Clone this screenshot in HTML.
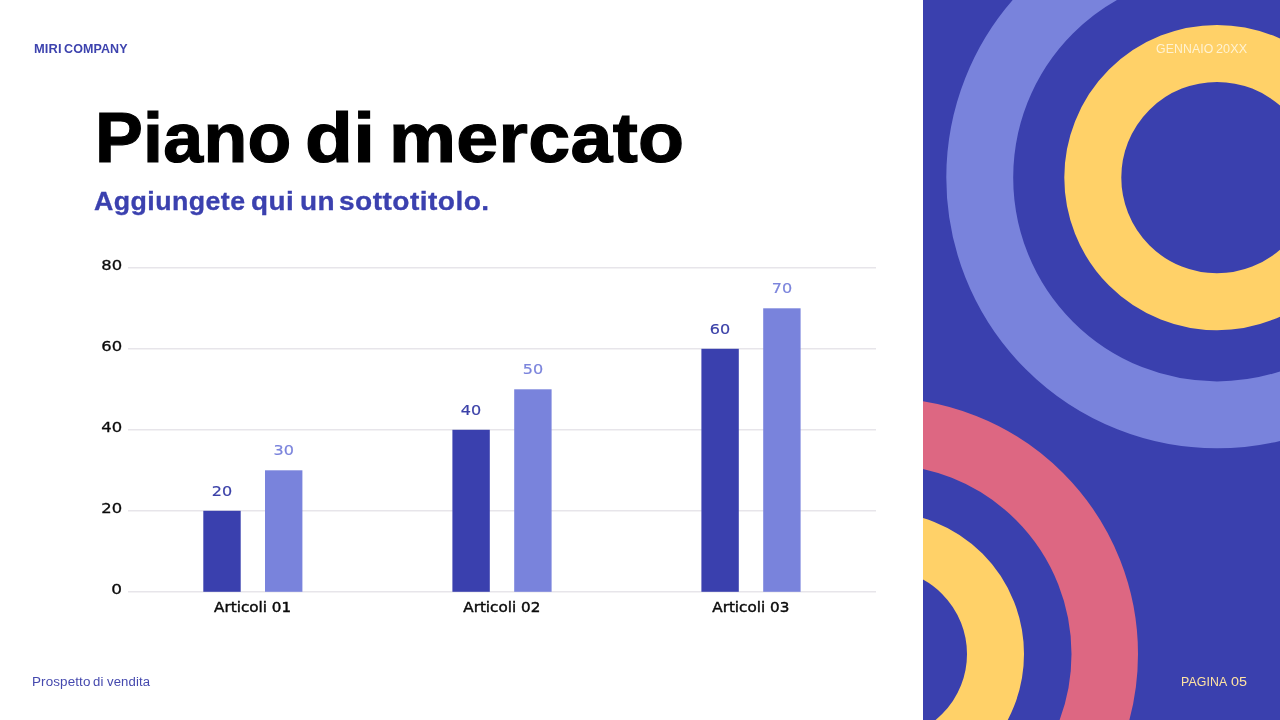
<!DOCTYPE html>
<html lang="it">
<head>
<meta charset="utf-8">
<title>Piano di mercato</title>
<style>
  html,body{margin:0;padding:0;}
  body{width:1280px;height:720px;position:relative;overflow:hidden;background:#ffffff;font-family:"Liberation Sans",sans-serif;}
  .t{position:absolute;left:0;white-space:nowrap;line-height:1;margin:0;width:1280px;}
  .t span{position:absolute;top:0;white-space:nowrap;transform-origin:0 50%;}
  #brand{top:43px;font-size:12.5px;font-weight:bold;color:#3d43ae;}
  #title{top:102px;height:71px;font-size:71px;font-weight:bold;color:#000;-webkit-text-stroke:1.2px #000;}
  #subtitle{top:189.4px;height:26px;font-size:25.5px;font-weight:bold;color:#3b41af;-webkit-text-stroke:0.3px #3b41af;}
  #footer{top:675.5px;font-size:12px;color:#4549ae;}
  #date{top:43px;font-size:12.5px;color:#fff2d2;}
  #page{top:676px;font-size:12.5px;color:#ffe3a3;}
  #t1{left:95.47px;letter-spacing:0.300px;transform:scaleX(1.0094);}
  #t2{left:305.30px;letter-spacing:0.300px;transform:scaleX(1.1046);}
  #t3{left:389.42px;letter-spacing:0.300px;transform:scaleX(1.0615);}
  #s1{left:93.61px;letter-spacing:0.400px;transform:scaleX(1.0502);}
  #s2{left:251.49px;letter-spacing:0.400px;transform:scaleX(1.0936);}
  #s3{left:299.61px;letter-spacing:0.400px;transform:scaleX(1.0969);}
  #s4{left:339.19px;letter-spacing:0.400px;transform:scaleX(1.1027);}
  #b1{left:33.79px;letter-spacing:0.100px;transform:scaleX(1.0298);}
  #b2{left:64.35px;letter-spacing:0.100px;transform:scaleX(1.0005);}
  #f1{left:31.59px;letter-spacing:0.100px;transform:scaleX(1.1197);}
  #f2{left:93.31px;letter-spacing:0.100px;transform:scaleX(1.0939);}
  #f3{left:106.58px;letter-spacing:0.100px;transform:scaleX(1.0956);}
  #d1{left:1155.58px;letter-spacing:0.100px;transform:scaleX(0.9830);}
  #d2{left:1215.66px;letter-spacing:0.100px;transform:scaleX(1.0082);}
  #p1{left:1181.49px;letter-spacing:0.100px;transform:scaleX(0.9879);}
  #p2{left:1231.13px;letter-spacing:0.100px;transform:scaleX(1.1506);}
  #panel{position:absolute;left:923px;top:0;width:357px;height:720px;}
  #chart{position:absolute;left:0;top:0;width:923px;height:720px;}
  .ax{font-family:"DejaVu Sans","Liberation Sans",sans-serif;font-size:13.4px;fill:#0b0b0b;stroke:#0b0b0b;stroke-width:0.3px;}
  .cat{font-family:"DejaVu Sans","Liberation Sans",sans-serif;font-size:14.8px;fill:#0b0b0b;stroke:#0b0b0b;stroke-width:0.45px;}
  .v1{font-family:"DejaVu Sans","Liberation Sans",sans-serif;font-size:14.2px;fill:#3b41a8;stroke:#3b41a8;stroke-width:0.2px;}
  .v2{font-family:"DejaVu Sans","Liberation Sans",sans-serif;font-size:14.2px;fill:#7b84dc;stroke:#7b84dc;stroke-width:0.2px;}
</style>
</head>
<body>
<svg id="panel" viewBox="923 0 357 720">
  <rect x="923" y="0" width="357" height="720" fill="#3a40ae"/>
  <circle cx="1217" cy="177.6" r="237.25" fill="none" stroke="#7983dc" stroke-width="66.9"/>
  <circle cx="1217" cy="177.6" r="124.2" fill="none" stroke="#ffd168" stroke-width="57"/>
  <circle cx="882" cy="654" r="222.75" fill="none" stroke="#dd6782" stroke-width="66.5"/>
  <circle cx="882" cy="654" r="113.5" fill="none" stroke="#ffd168" stroke-width="57"/>
</svg>
<svg id="chart" viewBox="0 0 923 720">
  <g stroke="#e7e5ea" stroke-width="1.6">
    <line x1="128" x2="876" y1="267.8" y2="267.8"/>
    <line x1="128" x2="876" y1="348.8" y2="348.8"/>
    <line x1="128" x2="876" y1="429.8" y2="429.8"/>
    <line x1="128" x2="876" y1="510.8" y2="510.8"/>
    <line x1="128" x2="876" y1="591.8" y2="591.8"/>
  </g>
  <g fill="#3a40ae">
    <rect x="203.3" y="510.8" width="37.4" height="81"/>
    <rect x="452.4" y="429.8" width="37.4" height="162"/>
    <rect x="701.4" y="348.8" width="37.4" height="243"/>
  </g>
  <g fill="#7983dc">
    <rect x="265" y="470.3" width="37.4" height="121.5"/>
    <rect x="514.2" y="389.3" width="37.4" height="202.5"/>
    <rect x="763.2" y="308.3" width="37.4" height="283.5"/>
  </g>
  <g class="ax" text-anchor="end">
    <text x="122.2" y="270.3" textLength="20.9" lengthAdjust="spacingAndGlyphs">80</text>
    <text x="122.2" y="351.3" textLength="20.9" lengthAdjust="spacingAndGlyphs">60</text>
    <text x="122.2" y="432.3" textLength="20.9" lengthAdjust="spacingAndGlyphs">40</text>
    <text x="122.2" y="513.3" textLength="20.9" lengthAdjust="spacingAndGlyphs">20</text>
    <text x="122.0" y="594.3" textLength="10.8" lengthAdjust="spacingAndGlyphs">0</text>
  </g>
  <g class="cat" text-anchor="middle">
    <text x="252.6" y="612.3" textLength="77" lengthAdjust="spacingAndGlyphs">Articoli 01</text>
    <text x="501.8" y="612.3" textLength="77" lengthAdjust="spacingAndGlyphs">Articoli 02</text>
    <text x="750.8" y="612.3" textLength="77" lengthAdjust="spacingAndGlyphs">Articoli 03</text>
  </g>
  <g class="v1" text-anchor="middle">
    <text x="222" y="495.9" textLength="20.4" lengthAdjust="spacingAndGlyphs">20</text>
    <text x="471" y="414.9" textLength="20.4" lengthAdjust="spacingAndGlyphs">40</text>
    <text x="720" y="333.9" textLength="20.4" lengthAdjust="spacingAndGlyphs">60</text>
  </g>
  <g class="v2" text-anchor="middle">
    <text x="283.7" y="455.4" textLength="20.4" lengthAdjust="spacingAndGlyphs">30</text>
    <text x="532.9" y="374.4" textLength="20.4" lengthAdjust="spacingAndGlyphs">50</text>
    <text x="781.9" y="293.4" textLength="20.4" lengthAdjust="spacingAndGlyphs">70</text>
  </g>
</svg>
<div class="t" id="brand"><span id="b1">MIRI</span> <span id="b2">COMPANY</span></div>
<h1 class="t" id="title"><span id="t1">Piano</span> <span id="t2">di</span> <span id="t3">mercato</span></h1>
<div class="t" id="subtitle"><span id="s1">Aggiungete</span> <span id="s2">qui</span> <span id="s3">un</span> <span id="s4">sottotitolo.</span></div>
<div class="t" id="footer"><span id="f1">Prospetto</span> <span id="f2">di</span> <span id="f3">vendita</span></div>
<div class="t" id="date"><span id="d1">GENNAIO</span> <span id="d2">20XX</span></div>
<div class="t" id="page"><span id="p1">PAGINA</span> <span id="p2">05</span></div>
</body>
</html>
